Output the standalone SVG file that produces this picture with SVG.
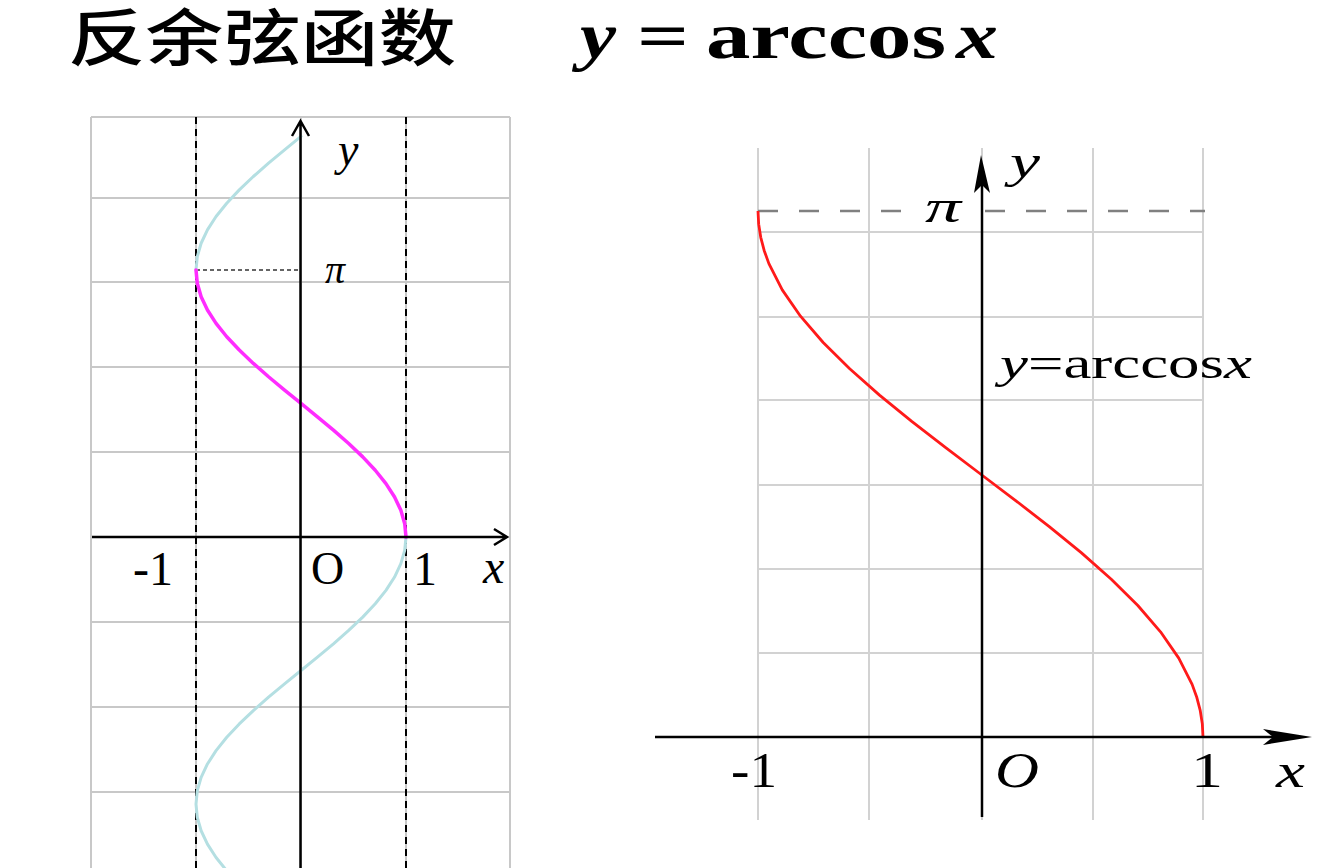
<svg xmlns="http://www.w3.org/2000/svg" width="1344" height="868" viewBox="0 0 1344 868">
<style>
.grid{stroke:#c8c8c8;stroke-width:2;fill:none}
.gridr{stroke:#d2d2d2;stroke-width:2;fill:none}
.axis{stroke:#000;stroke-width:2.5;fill:none}
.dash{stroke:#000;stroke-width:2;stroke-dasharray:7 5;fill:none}
.serif{font-family:"Liberation Serif","Times New Roman",serif;fill:#000}
.it{font-style:italic}
</style>
<rect width="1344" height="868" fill="#fff"/>
<g id="title">
<text x="68" y="61" font-family="'Noto Sans CJK SC',sans-serif" font-size="62" font-weight="500" textLength="388" lengthAdjust="spacingAndGlyphs">反余弦函数</text>
<text class="serif it" x="580" y="58" font-size="65" font-weight="bold" textLength="36" lengthAdjust="spacingAndGlyphs">y</text>
<text class="serif" x="637" y="58" font-size="65" font-weight="bold" textLength="52" lengthAdjust="spacingAndGlyphs">=</text>
<text class="serif" x="706" y="58" font-size="65" font-weight="bold" textLength="240" lengthAdjust="spacingAndGlyphs">arccos</text>
<text class="serif it" x="956" y="58" font-size="65" font-weight="bold" textLength="42" lengthAdjust="spacingAndGlyphs">x</text>
</g>
<g id="left-graph">
<g id="left-grid">
<path class="grid" d="M91 117V868M196 117V868M301 117V868M406 117V868M510 117V868M91 117H510M91 198H510M91 282H510M91 367H510M91 452H510M91 622H510M91 707H510M91 792H510"/>
</g>
<g id="left-dashes">
<path class="dash" d="M196 117V868M406 117V868"/>
<path d="M196 270H300" stroke="#333" stroke-width="1.3" stroke-dasharray="4 3" fill="none"/>
</g>
<g id="left-curves" fill="none" stroke-linejoin="round" stroke-linecap="round">
<polyline stroke="#b4dfe2" stroke-width="3" points="196,269.96 197.29,256.61 201.14,243.26 207.44,229.9 216.05,216.55 226.75,203.2 239.28,189.85 253.33,176.5 268.55,163.14 284.57,149.79 301,136.44"/>
<polyline stroke="#b4dfe2" stroke-width="3" points="406,537 404.71,550.35 400.86,563.7 394.56,577.06 385.95,590.41 375.25,603.76 362.72,617.11 348.67,630.46 333.45,643.82 317.43,657.17 301,670.52 284.57,683.87 268.55,697.22 253.33,710.58 239.28,723.93 226.75,737.28 216.05,750.63 207.44,763.98 201.14,777.34 197.29,790.69 196,804.04 197.29,817.39 201.14,830.74 207.44,844.1 216.05,857.45 226.75,870.8"/>
<polyline stroke="#ff2cff" stroke-width="3.5" points="406,537 404.71,523.65 400.86,510.3 394.56,496.94 385.95,483.59 375.25,470.24 362.72,456.89 348.67,443.54 333.45,430.18 317.43,416.83 301,403.48 284.57,390.13 268.55,376.78 253.33,363.42 239.28,350.07 226.75,336.72 216.05,323.37 207.44,310.02 201.14,296.66 197.29,283.31 196,269.96"/>
</g>
<g id="left-axes">
<path class="axis" d="M300.5 868V121M292 136L300.5 121L309 136"/>
<path class="axis" d="M92 537H507M494 529L507 537L494 545"/>
</g>
<g id="left-labels" class="serif">
<text class="it" x="338" y="165" font-size="46">y</text>
<text class="it" x="325" y="283" font-size="40">π</text>
<text x="133" y="585" font-size="48">-1</text>
<text x="311" y="584" font-size="46">O</text>
<text x="413" y="585" font-size="48">1</text>
<text class="it" x="483" y="583" font-size="48">x</text>
</g>
</g>
<g id="right-graph">
<g id="right-grid">
<path class="gridr" d="M758 148V820M869 148V820M982 148V820M1093 148V820M1203 148V820M758 232H1203M758 317H1203M758 400H1203M758 485H1203M758 569H1203M758 653H1203"/>
</g>
<g id="right-dash">
<path d="M758 211H922M985 211H1205" stroke="#808080" stroke-width="2.5" stroke-dasharray="20 21" fill="none"/>
</g>
<g id="right-curve">
<polyline fill="none" stroke="#ff1a1a" stroke-width="2.8" stroke-linejoin="round" points="1203,737 1202.32,723.85 1200.26,710.7 1196.85,697.55 1192.11,684.4 1178.75,658.1 1160.51,631.8 1137.83,605.5 1111.28,579.2 1081.51,552.9 1049.26,526.6 1015.31,500.3 980.5,474 945.69,447.7 911.74,421.4 879.49,395.1 849.72,368.8 823.17,342.5 800.49,316.2 782.25,289.9 768.89,263.6 764.15,250.45 760.74,237.3 758.68,224.15 758,211"/>
</g>
<g id="right-axes">
<path class="axis" d="M982 817V170"/>
<polygon points="981,155 974,193 982,185 990,193" fill="#000"/>
<path class="axis" d="M655 737H1280"/>
<polygon points="1312,737 1263,729 1273,737 1263,745" fill="#000"/>
</g>
<g id="right-labels" class="serif">
<text class="it" x="1010" y="177" font-size="46" textLength="30" lengthAdjust="spacingAndGlyphs">y</text>
<text class="it" x="925" y="222" font-size="46" textLength="36" lengthAdjust="spacingAndGlyphs">π</text>
<text x="1000" y="378" font-size="44" textLength="252" lengthAdjust="spacingAndGlyphs"><tspan class="it">y</tspan>=arccos<tspan class="it">x</tspan></text>
<text x="731" y="787" font-size="50" textLength="46" lengthAdjust="spacingAndGlyphs">-1</text>
<text class="it" x="995" y="787" font-size="50" textLength="44" lengthAdjust="spacingAndGlyphs">O</text>
<text x="1191" y="787" font-size="50" textLength="32" lengthAdjust="spacingAndGlyphs">1</text>
<text class="it" x="1276" y="787" font-size="48" textLength="29" lengthAdjust="spacingAndGlyphs">x</text>
</g>
</g>
</svg>
